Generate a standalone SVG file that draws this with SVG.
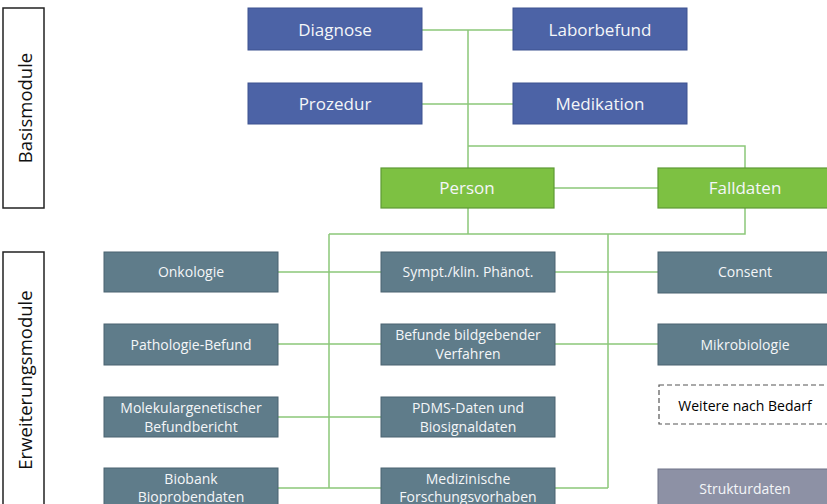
<svg xmlns="http://www.w3.org/2000/svg" width="827" height="504" viewBox="0 0 827 504">
<style>
text{font-family:"Open Sans","Liberation Sans",sans-serif;text-anchor:middle;dominant-baseline:central;fill:#f4f6f8}
.lbl{fill:#111;font-size:18.5px}
.side{fill:#fff;stroke:#222;stroke-width:1.5}
.blue{fill:#4c63a6;stroke:#3d5290;stroke-width:1}
.green{fill:#7dc142;stroke:#5e9a35;stroke-width:1.2}
.teal{fill:#5f7c8a;stroke:#4a6370;stroke-width:1}
.grey{fill:#8d91a5;stroke:#6f7388;stroke-width:1}
.dash{fill:#fff;stroke:#555;stroke-width:1.2;stroke-dasharray:5 3}
.big{font-size:17px}
.sm{font-size:14px}
.con{fill:none;stroke:#8cc77a;stroke-width:1.5}
</style>
<g id="basismodule"><rect class="side" x="3" y="8" width="41" height="200"/><text class="lbl" transform="translate(24,108) rotate(-90)">Basismodule</text></g>
<g id="erweiterungsmodule"><rect class="side" x="3" y="252" width="41" height="260"/><text class="lbl" transform="translate(24,380) rotate(-90)">Erweiterungsmodule</text></g>
<g id="connectors">
<path class="con" d="M422 30H513M422 104H513M468 30V168M468 146H745V168M554 188H658M468 208V234M329 234H745V208M329 234V488M278 272H381M278 344H381M278 417H381M278 488H381M608 234V488M555 272H658M555 344H658M555 488H608"/>
</g>
<g id="diagnose"><rect class="blue" x="248" y="8" width="174" height="42"/><text class="big" x="335" y="29">Diagnose</text></g>
<g id="laborbefund"><rect class="blue" x="513" y="8" width="174" height="42"/><text class="big" x="600" y="29">Laborbefund</text></g>
<g id="prozedur"><rect class="blue" x="248" y="83" width="174" height="41"/><text class="big" x="335" y="103">Prozedur</text></g>
<g id="medikation"><rect class="blue" x="513" y="83" width="174" height="41"/><text class="big" x="600" y="103">Medikation</text></g>
<g id="person"><rect class="green" x="381" y="168" width="173" height="40"/><text class="big" x="467" y="187">Person</text></g>
<g id="falldaten"><rect class="green" x="658" y="168" width="174" height="40"/><text class="big" x="745" y="187">Falldaten</text></g>
<g id="onkologie"><rect class="teal" x="104" y="252" width="174" height="40"/><text class="sm" x="191" y="271">Onkologie</text></g>
<g id="pathologie"><rect class="teal" x="104" y="324" width="174" height="41"/><text class="sm" x="191" y="344">Pathologie-Befund</text></g>
<g id="molekular"><rect class="teal" x="104" y="397" width="174" height="40"/><text class="sm" x="191" y="407">Molekulargenetischer</text><text class="sm" x="191" y="426">Befundbericht</text></g>
<g id="biobank"><rect class="teal" x="104" y="468" width="174" height="44"/><text class="sm" x="191" y="478">Biobank</text><text class="sm" x="191" y="496">Bioprobendaten</text></g>
<g id="sympt"><rect class="teal" x="381" y="252" width="174" height="40"/><text class="sm" x="468" y="271">Sympt./klin. Phänot.</text></g>
<g id="befunde"><rect class="teal" x="381" y="324" width="174" height="41"/><text class="sm" x="468" y="334">Befunde bildgebender</text><text class="sm" x="468" y="353">Verfahren</text></g>
<g id="pdms"><rect class="teal" x="381" y="397" width="174" height="40"/><text class="sm" x="468" y="407">PDMS-Daten und</text><text class="sm" x="468" y="426">Biosignaldaten</text></g>
<g id="forschung"><rect class="teal" x="381" y="468" width="174" height="44"/><text class="sm" x="468" y="478">Medizinische</text><text class="sm" x="468" y="496">Forschungsvorhaben</text></g>
<g id="consent"><rect class="teal" x="658" y="252" width="174" height="41"/><text class="sm" x="745" y="271">Consent</text></g>
<g id="mikrobiologie"><rect class="teal" x="658" y="324" width="174" height="41"/><text class="sm" x="745" y="344">Mikrobiologie</text></g>
<g id="weitere"><rect class="dash" x="659" y="385" width="174" height="39"/><text class="sm" x="745" y="405" style="fill:#000">Weitere nach Bedarf</text></g>
<g id="strukturdaten"><rect class="grey" x="658" y="469" width="174" height="43"/><text class="sm" x="745" y="488">Strukturdaten</text></g>
</svg>
